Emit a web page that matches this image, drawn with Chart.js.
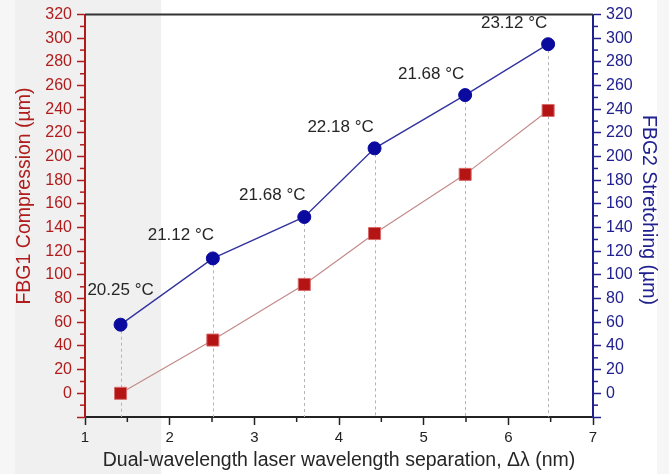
<!DOCTYPE html>
<html>
<head>
<meta charset="utf-8">
<script src="https://cdn.jsdelivr.net/npm/chart.js@4.4.1/dist/chart.umd.min.js"></script>
<style>
  html, body { margin: 0; padding: 0; background: #fff; }
</style>
</head>
<body>
<canvas id="chart" width="669" height="474"></canvas>
<script>
// values
const separation = [1.42, 2.51, 3.59, 4.42, 5.49, 6.47];
const fbg1Compression = [0, 45, 92, 135, 185, 239];
const fbg2Stretching = [58, 114, 149, 207, 252, 295];
const tempLabels = ['20.25 °C', '21.12 °C', '21.68 °C', '22.18 °C', '21.68 °C', '23.12 °C'];
const leftTitle = 'FBG1 Compression (µm)';
const rightTitle = 'FBG2 Stretching (µm)';
const xTitle = 'Dual-wavelength laser wavelength separation, Δλ (nm)';

const RED = '#b01c1c';
const BLUE = '#20208f';
const FONT = '"Liberation Sans", Arial, sans-serif';

// label offsets relative to each blue point (px)
const labelShift = [[0, -34], [-32, -23], [-32, -22], [-34, -21], [-34, -21], [-34, -21]];

const toXY = ys => separation.map((x, i) => ({ x: x, y: ys[i] }));

const decorPlugin = {
  id: 'decor',
  beforeDraw(chart) {
    const { ctx, scales } = chart;
    ctx.save();
    ctx.fillStyle = '#ffffff';
    ctx.fillRect(0, 0, chart.width, chart.height);
    // shaded band on the left side
    const bandEnd = scales.x.getPixelForValue(1.9);
    ctx.fillStyle = '#f0f0f0';
    ctx.fillRect(15, 0, bandEnd - 15, chart.height);
    ctx.fillStyle = '#f6f6f6';
    ctx.fillRect(0, 0, 15, chart.height);
    ctx.fillRect(657, 0, chart.width - 657, chart.height);
    ctx.restore();
  },
  beforeDatasetsDraw(chart) {
    const { ctx, chartArea, scales } = chart;
    ctx.save();
    // dotted drop lines from the blue points
    const pts = chart.getDatasetMeta(1).data;
    ctx.strokeStyle = '#b4b4b4';
    ctx.lineWidth = 1;
    ctx.setLineDash([3, 3]);
    pts.forEach(p => {
      ctx.beginPath();
      ctx.moveTo(Math.round(p.x) + 0.5, p.y);
      ctx.lineTo(Math.round(p.x) + 0.5, chartArea.bottom);
      ctx.stroke();
    });
    ctx.setLineDash([]);
    // top frame line
    ctx.strokeStyle = '#333';
    ctx.lineWidth = 2;
    ctx.beginPath();
    ctx.moveTo(chartArea.left, chartArea.top);
    ctx.lineTo(chartArea.right, chartArea.top);
    ctx.stroke();
    // minor ticks
    ctx.lineWidth = 1.5;
    for (let v = -10; v < 320; v += 20) {
      const yl = scales.y.getPixelForValue(v);
      ctx.strokeStyle = RED;
      ctx.beginPath();
      ctx.moveTo(chartArea.left, yl);
      ctx.lineTo(chartArea.left - 5, yl);
      ctx.stroke();
      const yr = scales.y2.getPixelForValue(v);
      ctx.strokeStyle = BLUE;
      ctx.beginPath();
      ctx.moveTo(chartArea.right, yr);
      ctx.lineTo(chartArea.right + 5, yr);
      ctx.stroke();
    }
    ctx.strokeStyle = '#222';
    for (let v = 1.5; v < 7; v += 1) {
      const x = scales.x.getPixelForValue(v);
      ctx.beginPath();
      ctx.moveTo(x, chartArea.bottom);
      ctx.lineTo(x, chartArea.bottom + 5);
      ctx.stroke();
    }
    // y axis titles
    ctx.font = '19.5px ' + FONT;
    ctx.textAlign = 'center';
    ctx.textBaseline = 'middle';
    ctx.save();
    ctx.translate(25, 196);
    ctx.rotate(-Math.PI / 2);
    ctx.fillStyle = RED;
    ctx.fillText(leftTitle, 0, 0);
    ctx.restore();
    ctx.save();
    ctx.translate(648, 210);
    ctx.rotate(Math.PI / 2);
    ctx.fillStyle = BLUE;
    ctx.fillText(rightTitle, 0, 0);
    ctx.restore();
    ctx.restore();
  },
  afterDatasetsDraw(chart) {
    const { ctx } = chart;
    const pts = chart.getDatasetMeta(1).data;
    ctx.save();
    ctx.font = '17px ' + FONT;
    ctx.fillStyle = '#262626';
    ctx.textAlign = 'center';
    ctx.textBaseline = 'middle';
    pts.forEach((p, i) => {
      ctx.fillText(tempLabels[i], p.x + labelShift[i][0], p.y + labelShift[i][1]);
    });
    ctx.restore();
  }
};

new Chart(document.getElementById('chart'), {
  type: 'line',
  data: {
    datasets: [
      {
        label: 'FBG1 Compression',
        data: toXY(fbg1Compression),
        yAxisID: 'y',
        borderColor: '#c48a8a',
        borderWidth: 1.2,
        pointStyle: 'rect',
        pointRadius: 8.5,
        pointBackgroundColor: '#b41414',
        pointBorderColor: '#d86a6a',
        pointBorderWidth: 1,
        tension: 0
      },
      {
        label: 'FBG2 Stretching',
        data: toXY(fbg2Stretching),
        yAxisID: 'y2',
        borderColor: '#3434a0',
        borderWidth: 1.4,
        pointStyle: 'circle',
        pointRadius: 6.5,
        pointBackgroundColor: '#0a0a9e',
        pointBorderColor: '#0a0a9e',
        pointBorderWidth: 1,
        tension: 0
      }
    ]
  },
  options: {
    responsive: false,
    animation: false,
    devicePixelRatio: 1,
    layout: { padding: { top: 13, left: 0, right: 0, bottom: 0 } },
    plugins: { legend: { display: false }, tooltip: { enabled: false } },
    scales: {
      x: {
        type: 'linear',
        min: 1, max: 7,
        ticks: { stepSize: 1, color: '#222', padding: 4, font: { family: FONT, size: 15 } },
        grid: { drawOnChartArea: false, drawTicks: true, tickLength: 8, tickColor: '#222', tickWidth: 1.5 },
        border: { display: true, color: '#222', width: 2 },
        title: {
          display: true,
          text: xTitle,
          color: '#262626',
          font: { family: FONT, size: 19.5 },
          padding: { top: 0, bottom: 2 }
        },
        afterFit(scale) { scale.height = 57; }
      },
      y: {
        position: 'left',
        min: -20, max: 320,
        ticks: {
          stepSize: 20, color: RED, padding: 5,
          font: { family: FONT, size: 16 },
          callback: v => (v < 0 ? '' : v)
        },
        grid: { drawOnChartArea: false, drawTicks: true, tickLength: 8, tickColor: RED, tickWidth: 1.5 },
        border: { display: true, color: RED, width: 2 },
        afterFit(scale) { scale.width = 85; }
      },
      y2: {
        position: 'right',
        min: -20, max: 320,
        ticks: {
          stepSize: 20, color: BLUE, padding: 5,
          font: { family: FONT, size: 16 },
          callback: v => (v < 0 ? '' : v)
        },
        grid: { drawOnChartArea: false, drawTicks: true, tickLength: 8, tickColor: BLUE, tickWidth: 1.5 },
        border: { display: true, color: BLUE, width: 2 },
        afterFit(scale) { scale.width = 76; }
      }
    }
  },
  plugins: [decorPlugin]
});
</script>
</body>
</html>
